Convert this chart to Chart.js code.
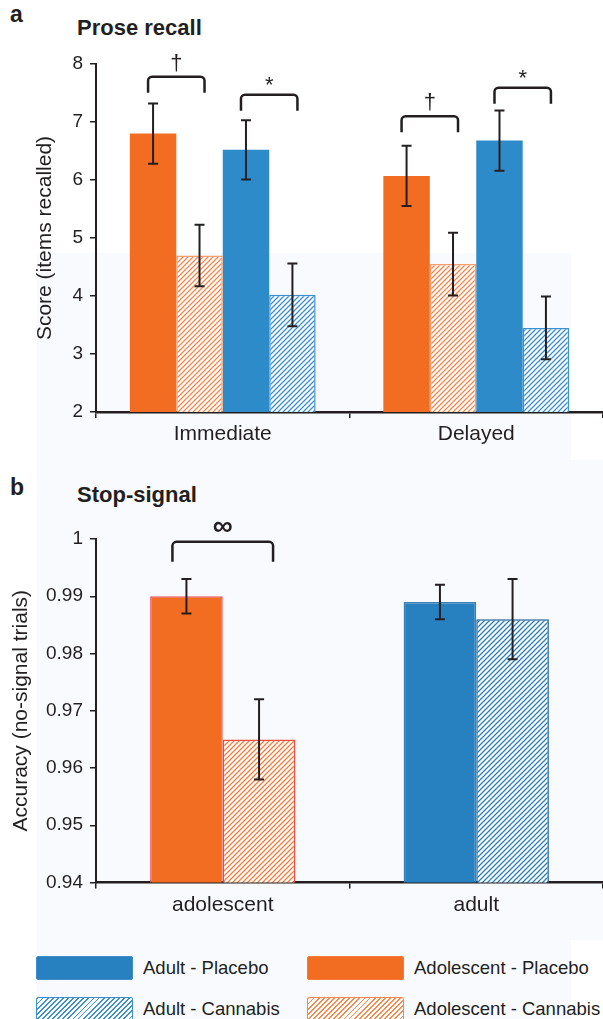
<!DOCTYPE html>
<html>
<head>
<meta charset="utf-8">
<script src="https://cdn.jsdelivr.net/npm/chart.js@4/dist/chart.umd.min.js"></script>
<style>
  body { margin: 0; background: #fff; font-family: 'Liberation Sans', Arial, sans-serif; color: #231f20; }
  #page { position: relative; width: 603px; height: 1019px; overflow: hidden; }
  .bg { position: absolute; background: #f8fafd; }
  .tag { position: absolute; font-weight: bold; font-size: 23px; line-height: 1; }
  .ttl { position: absolute; font-weight: bold; font-size: 22px; line-height: 1; }
  canvas { position: absolute; left: 0; }
  .lg-sw { position: absolute; width: 97px; height: 24px; box-sizing: border-box; border-radius: 2px; }
  .lg-tx { position: absolute; font-size: 18.5px; line-height: 24px; white-space: nowrap; }
</style>
</head>
<body>
<div id="page">
  <div class="bg" style="left:37px;top:253px;width:534px;height:766px"></div>
  <div class="bg" style="left:571px;top:460px;width:32px;height:480px"></div>
  <div class="tag" style="left:10px;top:3px">a</div>
  <div class="ttl" style="left:77px;top:17px">Prose recall</div>
  <canvas id="proseChart" width="603" height="460" style="top:0"></canvas>
  <div class="tag" style="left:10px;top:476px">b</div>
  <div class="ttl" style="left:77px;top:484px">Stop-signal</div>
  <canvas id="stopChart" width="603" height="480" style="top:460px"></canvas>
  <div id="legend"></div>
</div>
<script>
// Prose recall (panel a)
const proseLabels = ['Immediate', 'Delayed'];
const adolPlacebo = [6.80, 6.07];
const adolPlaceboErr = [0.52, 0.52];
const adolCannabis = [4.70, 4.55];
const adolCannabisErr = [0.53, 0.54];
const adultPlacebo = [6.52, 6.68];
const adultPlaceboErr = [0.51, 0.52];
const adultCannabis = [4.02, 3.45];
const adultCannabisErr = [0.54, 0.54];
// significance brackets: category, first/second dataset, height, mark
const proseBrackets = [
  { cat: 0, from: 0, to: 1, y: 7.78, mark: '\u2020' },
  { cat: 0, from: 2, to: 3, y: 7.47, mark: '*' },
  { cat: 1, from: 0, to: 1, y: 7.10, mark: '\u2020' },
  { cat: 1, from: 2, to: 3, y: 7.59, mark: '*' }
];

// Stop-signal (panel b)
const stopLabels = ['adolescent', 'adult'];
const stopPlacebo = [0.990, 0.989];
const stopPlaceboErr = [0.003, 0.003];
const stopCannabis = [0.965, 0.986];
const stopCannabisErr = [0.007, 0.007];
const stopBrackets = [
  { cat: 0, from: 0, to: 1, y: 0.9995, mark: '\u221E' }
];

const legendLabels = ['Adult - Placebo', 'Adolescent - Placebo', 'Adult - Cannabis', 'Adolescent - Cannabis'];

const INK = '#231f20';
const ORANGE = '#f26d21';
const BLUE = '#2e8bca';
const BLUE_B = '#2780c0';
Chart.defaults.font.family = "'Liberation Sans', Arial, sans-serif";
Chart.defaults.color = INK;

function hatch(color, lw = 1.3) {
  const s = 5;
  const c = document.createElement('canvas');
  c.width = c.height = s;
  const x = c.getContext('2d');
  x.fillStyle = '#fff';
  x.fillRect(0, 0, s, s);
  x.strokeStyle = color;
  x.lineWidth = lw;
  x.beginPath();
  x.moveTo(0, s); x.lineTo(s, 0);
  x.moveTo(-1, 1); x.lineTo(1, -1);
  x.moveTo(s - 1, s + 1); x.lineTo(s + 1, s - 1);
  x.stroke();
  return x.createPattern(c, 'repeat');
}

const errorBarPlugin = {
  id: 'errorBars',
  afterDatasetsDraw(chart) {
    const { ctx, scales: { y } } = chart;
    ctx.save();
    ctx.strokeStyle = INK;
    ctx.lineWidth = 2;
    chart.data.datasets.forEach((ds, i) => {
      chart.getDatasetMeta(i).data.forEach((bar, j) => {
        const v = ds.data[j], e = ds.err[j];
        const top = y.getPixelForValue(v + e), bot = y.getPixelForValue(v - e);
        ctx.beginPath();
        ctx.moveTo(bar.x, top); ctx.lineTo(bar.x, bot);
        ctx.moveTo(bar.x - 5, top); ctx.lineTo(bar.x + 5, top);
        ctx.moveTo(bar.x - 5, bot); ctx.lineTo(bar.x + 5, bot);
        ctx.stroke();
      });
    });
    ctx.restore();
  }
};

const bracketPlugin = {
  id: 'brackets',
  afterDatasetsDraw(chart, args, opts) {
    const { ctx, scales: { y } } = chart;
    ctx.save();
    ctx.strokeStyle = INK;
    ctx.fillStyle = INK;
    ctx.lineWidth = 2.5;
    ctx.lineJoin = 'round';
    (opts.items || []).forEach(b => {
      const x1 = chart.getDatasetMeta(b.from).data[b.cat].x - opts.pad;
      const x2 = chart.getDatasetMeta(b.to).data[b.cat].x + opts.pad;
      const top = y.getPixelForValue(b.y);
      ctx.beginPath();
      ctx.moveTo(x1, top + opts.leg);
      ctx.arcTo(x1, top, x2, top, 4);
      ctx.arcTo(x2, top, x2, top + opts.leg, 4);
      ctx.lineTo(x2, top + opts.leg);
      ctx.stroke();
      // mark centred above the bracket
      ctx.font = opts.font;
      ctx.textAlign = 'center';
      ctx.textBaseline = 'alphabetic';
      const m = ctx.measureText(b.mark);
      const cy = top - opts.gap;
      ctx.fillText(b.mark, (x1 + x2) / 2, cy + (m.actualBoundingBoxAscent - m.actualBoundingBoxDescent) / 2);
    });
    ctx.restore();
  }
};

function yAxis(min, max, step, text, titlePad, fmt) {
  return {
    min, max,
    ticks: { stepSize: step, font: { size: 19 }, padding: 7, color: INK, callback: fmt },
    grid: { drawOnChartArea: false, tickLength: 6, color: INK, lineWidth: 1.5 },
    border: { display: true, color: INK, width: 2 },
    title: { display: true, text, font: { size: 21 }, color: INK, padding: { top: titlePad, bottom: 0 } },
    afterFit: s => { s.width = 96; }
  };
}

function xAxis(h) {
  return {
    ticks: { font: { size: 21 }, padding: 4, color: INK },
    grid: { offset: true, drawOnChartArea: false, tickLength: 6, color: INK, lineWidth: 1.5 },
    border: { display: true, color: INK, width: 2.5 },
    afterFit: s => { s.height = h; }
  };
}

new Chart(document.getElementById('proseChart').getContext('2d'), {
  type: 'bar',
  data: {
    labels: proseLabels,
    datasets: [
      { label: 'Adolescent - Placebo', data: adolPlacebo, err: adolPlaceboErr, backgroundColor: ORANGE, borderWidth: 0 },
      { label: 'Adolescent - Cannabis', data: adolCannabis, err: adolCannabisErr, backgroundColor: hatch('#f4874c'), borderColor: '#f6a06f', borderWidth: 1.5 },
      { label: 'Adult - Placebo', data: adultPlacebo, err: adultPlaceboErr, backgroundColor: BLUE, borderWidth: 0 },
      { label: 'Adult - Cannabis', data: adultCannabis, err: adultCannabisErr, backgroundColor: hatch('#3a8fd0'), borderColor: '#3b90d0', borderWidth: 1.5 }
    ]
  },
  options: {
    responsive: false, animation: false,
    categoryPercentage: 0.733, barPercentage: 1.0,
    layout: { padding: { top: 64, right: 0, bottom: 0, left: 0 } },
    scales: { x: xAxis(48), y: yAxis(2, 8, 1, 'Score (items recalled)', 33) },
    plugins: {
      legend: { display: false }, tooltip: { enabled: false },
      brackets: { items: proseBrackets, pad: 5, leg: 16, gap: 14, font: "22px 'Liberation Sans', Arial, sans-serif" }
    }
  },
  plugins: [errorBarPlugin, bracketPlugin]
});

new Chart(document.getElementById('stopChart').getContext('2d'), {
  type: 'bar',
  data: {
    labels: stopLabels,
    datasets: [
      { label: 'Placebo', data: stopPlacebo, err: stopPlaceboErr, backgroundColor: [ORANGE, BLUE_B], borderColor: ['#e9555a', '#3d7fb2'], borderWidth: 1.5 },
      { label: 'Cannabis', data: stopCannabis, err: stopCannabisErr, backgroundColor: [hatch('#f47c3c'), hatch('#2a7fc0')], borderColor: ['#ec4f3f', '#1f5e96'], borderWidth: 1.5 }
    ]
  },
  options: {
    responsive: false, animation: false,
    categoryPercentage: 0.573, barPercentage: 1.0,
    layout: { padding: { top: 79, right: 0, bottom: 0, left: 0 } },
    scales: {
      x: xAxis(57.5),
      y: yAxis(0.94, 1, 0.01, 'Accuracy (no-signal trials)', 9, v => String(+v.toFixed(2)))
    },
    plugins: {
      legend: { display: false }, tooltip: { enabled: false },
      brackets: { items: stopBrackets, pad: 14, leg: 20, gap: 15, font: "bold 28px 'Liberation Sans', Arial, sans-serif" }
    }
  },
  plugins: [errorBarPlugin, bracketPlugin]
});

// legend
const legendFills = [
  BLUE_B, ORANGE,
  'repeating-linear-gradient(135deg, #3a8fd0 0 1.3px, #fff 1.3px 3.6px)',
  'repeating-linear-gradient(135deg, #f5884a 0 1.3px, #fff 1.3px 3.6px)'
];
const legendBorders = ['#3d8cc9', '#f47a35', '#3a8fd0', '#f5884a'];
const legendEl = document.getElementById('legend');
legendLabels.forEach((txt, i) => {
  const left = 36 + (i % 2) * 271;
  const top = 956 + Math.floor(i / 2) * 41;
  const sw = document.createElement('div');
  sw.className = 'lg-sw';
  sw.style.left = left + 'px';
  sw.style.top = top + 'px';
  sw.style.background = legendFills[i];
  sw.style.border = '1px solid ' + legendBorders[i];
  legendEl.appendChild(sw);
  const tx = document.createElement('div');
  tx.className = 'lg-tx';
  tx.style.left = (left + 107) + 'px';
  tx.style.top = top + 'px';
  tx.textContent = txt;
  legendEl.appendChild(tx);
});
</script>
</body>
</html>
